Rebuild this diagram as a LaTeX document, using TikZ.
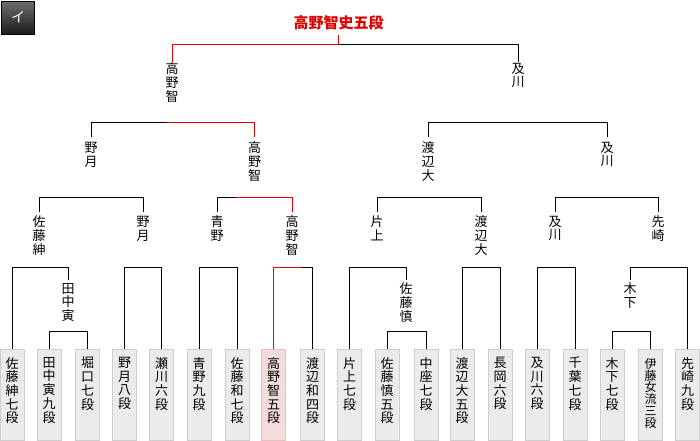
\documentclass[tikz,border=0pt]{standalone}
\usepackage{fontspec}
\newfontfamily\cjk{Noto Sans CJK JP}
\definecolor{winred}{RGB}{224,0,0}
\definecolor{boxfill}{RGB}{235,235,235}
\definecolor{boxline}{RGB}{206,206,206}
\definecolor{pinkfill}{RGB}{245,220,220}
\definecolor{pinkline}{RGB}{230,192,192}
\definecolor{tabtop}{RGB}{110,110,110}
\definecolor{tabbot}{RGB}{28,28,28}
\begin{document}
\begin{tikzpicture}[x=1pt,y=-1pt,
  lbl/.style={inner sep=0pt, align=center, anchor=north, font=\cjk\fontsize{13}{13.7}\selectfont},
  lone/.style={lbl, outer ysep=1pt},
  ltwo/.style={lbl, outer ysep=5pt},
  lthree/.style={lbl, outer ysep=4pt},
  lfour/.style={lbl, outer ysep=3pt},
  boxn/.style={draw=boxline, fill=boxfill, line width=1pt, minimum width=24pt, minimum height=91pt, inner sep=0pt, anchor=north},
  boxw/.style={boxn, draw=pinkline, fill=pinkfill},
  btxt/.style={lbl},
  btxtsm/.style={inner sep=0pt, align=center, anchor=north, font=\cjk\fontsize{12}{11.8}\selectfont},
  con/.style={draw=black, line width=1pt},
  win/.style={draw=winred, line width=1pt}]
\useasboundingbox (0,0) rectangle (700,440);
\fill[white] (0,0) rectangle (700,440);
% tab
\node[draw=black, line width=1pt, top color=tabtop, bottom color=tabbot, minimum width=33pt, minimum height=33pt, inner sep=0pt, text=white, font=\cjk\fontsize{14}{14}\selectfont] (tab) at (18,17.5) {イ};
% title
\node[inner sep=0pt, outer ysep=5pt, anchor=south, text=winred, font=\cjk\bfseries\fontsize{15}{15}\selectfont] (title) at (338.5,35) {高野智史五段};
% level 1 labels
\node[lone] (a1) at (172,62) {高\\野\\智};
\node[lone] (a2) at (518,62) {及\\川};
% level 2 labels
\node[ltwo] (b1) at (91,137) {野\\月};
\node[ltwo] (b2) at (254.5,137) {高\\野\\智};
\node[ltwo] (b3) at (428,137) {渡\\辺\\大};
\node[ltwo] (b4) at (607,137) {及\\川};
% level 3 labels
\node[lthree] (c1) at (39,212) {佐\\藤\\紳};
\node[lthree] (c2) at (143,212) {野\\月};
\node[lthree] (c3) at (217,212) {青\\野};
\node[lthree] (c4) at (292,212) {高\\野\\智};
\node[lthree] (c5) at (377,212) {片\\上};
\node[lthree] (c6) at (481,212) {渡\\辺\\大};
\node[lthree] (c7) at (555,212) {及\\川};
\node[lthree] (c8) at (658,212) {先\\崎};
% level 4 labels
\node[lfour] (d1) at (68,280) {田\\中\\寅};
\node[lfour] (d2) at (406,280) {佐\\藤\\慎};
\node[lfour] (d3) at (630,280) {木\\下};
% boxes
\node[boxn] (e1) at (12,349) {};
\node[boxn] (e2) at (49,349) {};
\node[boxn] (e3) at (87.5,349) {};
\node[boxn] (e4) at (124.5,349) {};
\node[boxn] (e5) at (161.5,349) {};
\node[boxn] (e6) at (199,349) {};
\node[boxn] (e7) at (237,349) {};
\node[boxw] (e8) at (273.5,349) {};
\node[boxn] (e9) at (312.5,349) {};
\node[boxn] (e10) at (349.5,349) {};
\node[boxn] (e11) at (387,349) {};
\node[boxn] (e12) at (426,349) {};
\node[boxn] (e13) at (462,349) {};
\node[boxn] (e14) at (500,349) {};
\node[boxn] (e15) at (537,349) {};
\node[boxn] (e16) at (575,349) {};
\node[boxn] (e17) at (612,349) {};
\node[boxn] (e18) at (650.5,349) {};
\node[boxn] (e19) at (687.5,349) {};
% box texts
\node[btxt] (t1) at (e1.north |- 0,357) {佐\\藤\\紳\\七\\段};
\node[btxt] (t2) at (e2.north |- 0,357) {田\\中\\寅\\九\\段};
\node[btxt] (t3) at (e3.north |- 0,357) {堀\\口\\七\\段};
\node[btxt] (t4) at (e4.north |- 0,357) {野\\月\\八\\段};
\node[btxt] (t5) at (e5.north |- 0,357) {瀬\\川\\六\\段};
\node[btxt] (t6) at (e6.north |- 0,357) {青\\野\\九\\段};
\node[btxt] (t7) at (e7.north |- 0,357) {佐\\藤\\和\\七\\段};
\node[btxt] (t8) at (e8.north |- 0,357) {高\\野\\智\\五\\段};
\node[btxt] (t9) at (e9.north |- 0,357) {渡\\辺\\和\\四\\段};
\node[btxt] (t10) at (e10.north |- 0,357) {片\\上\\七\\段};
\node[btxt] (t11) at (e11.north |- 0,357) {佐\\藤\\慎\\五\\段};
\node[btxt] (t12) at (e12.north |- 0,357) {中\\座\\七\\段};
\node[btxt] (t13) at (e13.north |- 0,357) {渡\\辺\\大\\五\\段};
\node[btxt] (t14) at (e14.north |- 0,357) {長\\岡\\六\\段};
\node[btxt] (t15) at (e15.north |- 0,357) {及\\川\\六\\段};
\node[btxt] (t16) at (e16.north |- 0,357) {千\\葉\\七\\段};
\node[btxt] (t17) at (e17.north |- 0,357) {木\\下\\七\\段};
\node[btxtsm] (t18) at (e18.north |- 0,358) {伊\\藤\\女\\流\\三\\段};
\node[btxt] (t19) at (e19.north |- 0,357) {先\\崎\\九\\段};
% junctions
\coordinate (j0) at (338.5,44);
\coordinate (k1) at (167,122);
\coordinate (k2) at (517,122);
\coordinate (k3) at (91,197);
\coordinate (k4) at (236,197);
\coordinate (k5) at (429,197);
\coordinate (k6) at (606,197);
\coordinate (m1) at (40,267);
\coordinate (m2) at (68,331);
\coordinate (m3) at (143,267);
\coordinate (m4) at (218,267);
\coordinate (m5) at (301,267);
\coordinate (m6) at (378,267);
\coordinate (m7) at (406,331);
\coordinate (m8) at (481,267);
\coordinate (m9) at (556,267);
\coordinate (m10) at (658,267);
\coordinate (m11) at (631,331);
% connectors
\draw[win] (title.south) -- (j0) -| (a1.north);
\draw[con] (j0) -| (a2.north);
\draw[con] (k1) -| (b1.north);
\draw[win] (k1) -| (b2.north);
\draw[con] (k2) -| (b3.north);
\draw[con] (k2) -| (b4.north);
\draw[con] (k3) -| (c1.north);
\draw[con] (k3) -| (c2.north);
\draw[con] (k4) -| (c3.north);
\draw[win] (k4) -| (c4.north);
\draw[con] (k5) -| (c5.north);
\draw[con] (k5) -| (c6.north);
\draw[con] (k6) -| (c7.north);
\draw[con] (k6) -| (c8.north);
\draw[con] (m1) -| (e1.north);
\draw[con] (m1) -| (d1.north);
\draw[con] (m2) -| (e2.north);
\draw[con] (m2) -| (e3.north);
\draw[con] (m3) -| (e4.north);
\draw[con] (m3) -| (e5.north);
\draw[con] (m4) -| (e6.north);
\draw[con] (m4) -| (e7.north);
\draw[win] (m5) -| (e8.north);
\draw[con] (m5) -| (e9.north);
\draw[con] (m6) -| (e10.north);
\draw[con] (m6) -| (d2.north);
\draw[con] (m7) -| (e11.north);
\draw[con] (m7) -| (e12.north);
\draw[con] (m8) -| (e13.north);
\draw[con] (m8) -| (e14.north);
\draw[con] (m9) -| (e15.north);
\draw[con] (m9) -| (e16.north);
\draw[con] (m10) -| (d3.north);
\draw[con] (m10) -| (e19.north);
\draw[con] (m11) -| (e17.north);
\draw[con] (m11) -| (e18.north);
\end{tikzpicture}
\end{document}
